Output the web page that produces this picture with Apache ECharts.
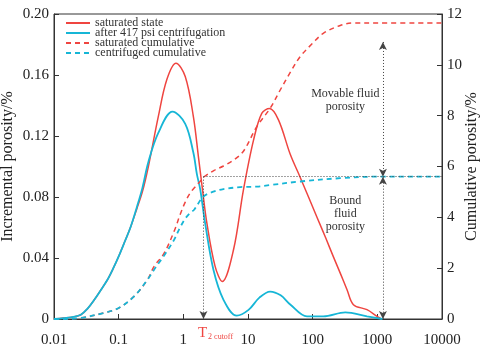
<!DOCTYPE html>
<html>
<head>
<meta charset="utf-8">
<script src="https://cdn.jsdelivr.net/npm/echarts@6/dist/echarts.min.js"></script>
<style>
  html, body { margin: 0; padding: 0; background: #fff; }
  #fig_t2 { width: 484px; height: 348px; }
</style>
</head>
<body>
<div id="fig_t2"></div>
<script>
// T2 relaxation time (ms) vs incremental porosity (%)
var satIncT = [0.01, 0.014, 0.02, 0.026, 0.033, 0.042, 0.053, 0.067, 0.082, 0.1, 0.125, 0.154, 0.19, 0.233, 0.288, 0.41, 0.556, 0.77, 1.07, 1.43, 1.71, 1.98, 2.31, 3.1, 4.0, 5.97, 8.5, 12.2, 16.4, 21.5, 29.6, 45, 64, 117, 160, 211, 270, 340, 427, 692, 990, 1150];
var satIncV = [0, 0.0006, 0.0014, 0.0028, 0.0068, 0.0126, 0.019, 0.0257, 0.033, 0.041, 0.051, 0.0607, 0.072, 0.0835, 0.1, 0.1327, 0.157, 0.1677, 0.159, 0.1327, 0.1065, 0.0847, 0.063, 0.0345, 0.0246, 0.0454, 0.0847, 0.1175, 0.135, 0.138, 0.1306, 0.108, 0.093, 0.0666, 0.0529, 0.0404, 0.0296, 0.0192, 0.0094, 0.0061, 0.0017, 0];

var cenIncT = [0.01, 0.014, 0.02, 0.026, 0.033, 0.042, 0.053, 0.067, 0.082, 0.1, 0.125, 0.154, 0.19, 0.233, 0.288, 0.41, 0.68, 1.07, 1.43, 1.62, 1.83, 2.17, 2.92, 4.18, 6.7, 10.2, 15, 22, 32, 45, 81.7, 146, 320, 692, 1200];
var cenIncV = [0, 0.0006, 0.0014, 0.0028, 0.0068, 0.0126, 0.019, 0.0257, 0.033, 0.041, 0.051, 0.0607, 0.073, 0.086, 0.103, 0.122, 0.136, 0.128, 0.109, 0.095, 0.0847, 0.063, 0.0323, 0.0126, 0.0022, 0.006, 0.014, 0.018, 0.0155, 0.0095, 0.0017, 0.0017, 0.0043, 0.0017, 0];

// cumulative porosity (%)
var satCumT = [0.01, 0.014, 0.026, 0.059, 0.1, 0.173, 0.278, 0.353, 0.505, 0.72, 0.89, 1.07, 1.27, 1.47, 1.87, 2.05, 3.0, 4.18, 5.97, 8.5, 13.7, 22, 31.5, 45, 64, 100, 146, 267, 427, 1000, 10000];
var satCumV = [0, 0, 0.04, 0.24, 0.43, 0.89, 1.54, 2.07, 2.59, 3.45, 4.1, 4.6, 4.95, 5.15, 5.45, 5.58, 5.85, 6.02, 6.25, 6.6, 7.57, 8.29, 9.01, 9.7, 10.32, 10.85, 11.24, 11.55, 11.65, 11.65, 11.65];

var cenCumT = [0.01, 0.014, 0.026, 0.059, 0.1, 0.173, 0.278, 0.353, 0.505, 0.72, 0.89, 1.07, 1.27, 1.47, 2.05, 3.0, 4.18, 7.6, 13.7, 22, 64, 267, 1000, 10000];
var cenCumV = [0, 0, 0.04, 0.24, 0.43, 0.89, 1.54, 1.94, 2.5, 3.12, 3.6, 3.95, 4.17, 4.3, 4.82, 5.02, 5.11, 5.19, 5.21, 5.27, 5.41, 5.54, 5.6, 5.6];

var seriesNames = ['saturated state', 'after 417 psi centrifugation', 'saturated cumulative', 'centrifuged cumulative'];

var t2Cutoff = 2.05;
var boundLevel = 5.6;
var totalLevel = 10.9;
var arrowT = 1220;

var RED = '#ef4540';
var BLUE = '#16b6d6';
var SERIF = '"Liberation Serif", "Times New Roman", serif';

function pairs(xs, ys) {
    return xs.map(function(x, i) { return [x, ys[i]]; });
}

var fig_t2 = {
    plot_chart: null,

    init: function() {
        var guide = { color: '#444', type: [1, 2], width: 1 };
        this.option = {
            animation: false,
            grid: {
                left: 54, right: 42, top: 14, bottom: 29,
                outerBoundsMode: 'none', containLabel: false,
                show: true, borderColor: '#333', borderWidth: 1
            },
            legend: {
                data: seriesNames,
                orient: 'vertical',
                left: 60, top: 12,
                itemWidth: 24, itemHeight: 8, itemGap: -2,
                itemStyle: { opacity: 0 },
                textStyle: { fontFamily: SERIF, fontSize: 12, color: '#333' }
            },
            xAxis: {
                type: 'log', logBase: 10, min: 0.01, max: 10000,
                axisLine: { lineStyle: { color: '#333' } },
                axisTick: { inside: true, length: 5, lineStyle: { color: '#333' } },
                minorTick: { show: false },
                splitLine: { show: false },
                axisLabel: {
                    fontFamily: SERIF, fontSize: 15, color: '#222', margin: 14,
                    formatter: function(v) { return String(+(+v).toPrecision(1)); }
                }
            },
            yAxis: [{
                type: 'value', min: 0, max: 0.2, interval: 0.04,
                name: 'Incremental porosity/%', nameLocation: 'middle', nameGap: 38,
                nameMoveOverlap: false,
                nameTextStyle: { fontFamily: SERIF, fontSize: 16, color: '#222' },
                axisLine: { show: true, lineStyle: { color: '#333' } },
                axisTick: { show: true, inside: true, length: 5, lineStyle: { color: '#333' } },
                splitLine: { show: false },
                axisLabel: {
                    fontFamily: SERIF, fontSize: 15, color: '#222', margin: 5,
                    formatter: function(v) { return v === 0 ? '0' : v.toFixed(2); }
                }
            }, {
                type: 'value', min: 0, max: 12, interval: 2,
                name: 'Cumulative porosity/%', nameLocation: 'middle', nameGap: 22,
                nameMoveOverlap: false,
                nameTextStyle: { fontFamily: SERIF, fontSize: 16, color: '#222' },
                axisLine: { show: true, lineStyle: { color: '#333' } },
                axisTick: { show: true, inside: true, length: 5, lineStyle: { color: '#333' } },
                splitLine: { show: false },
                axisLabel: { fontFamily: SERIF, fontSize: 15, color: '#222', margin: 5 }
            }],
            series: [{
                name: seriesNames[0], type: 'line', smooth: 0.35, symbol: 'none',
                data: pairs(satIncT, satIncV),
                lineStyle: { color: RED, width: 1.5 }, itemStyle: { color: RED }
            }, {
                name: seriesNames[1], type: 'line', smooth: 0.35, symbol: 'none',
                data: pairs(cenIncT, cenIncV),
                lineStyle: { color: BLUE, width: 1.8 }, itemStyle: { color: BLUE }
            }, {
                name: seriesNames[2], type: 'line', smooth: 0.35, symbol: 'none', yAxisIndex: 1,
                data: pairs(satCumT, satCumV),
                lineStyle: { color: RED, width: 1.5, type: [5, 4] }, itemStyle: { color: RED },
                markLine: {
                    silent: true, symbol: ['arrow', 'arrow'], symbolSize: [6, 8],
                    lineStyle: guide, label: { show: false },
                    data: [
                        [{ coord: [t2Cutoff, boundLevel], symbol: 'none' }, { coord: [10000, boundLevel], symbol: 'none' }],
                        [{ coord: [t2Cutoff, boundLevel], symbol: 'none' }, { coord: [t2Cutoff, 0], symbol: 'arrow' }],
                        [{ coord: [arrowT, totalLevel] }, { coord: [arrowT, boundLevel] }],
                        [{ coord: [arrowT, boundLevel] }, { coord: [arrowT, 0] }]
                    ]
                },
                markPoint: {
                    silent: true, symbol: 'circle', symbolSize: 1,
                    itemStyle: { color: 'rgba(0,0,0,0)' },
                    label: { show: true, position: 'inside', fontFamily: SERIF, fontSize: 12, lineHeight: 13, color: '#333', align: 'center' },
                    data: [
                        { coord: [320, 8.6], value: 1, label: { formatter: 'Movable fluid\nporosity' } },
                        { coord: [320, 4.15], value: 1, label: { formatter: 'Bound\nfluid\nporosity' } },
                        {
                            coord: [t2Cutoff, 0], value: 1,
                            label: {
                                offset: [12, 14],
                                formatter: '{t|T}{s|2 cutoff}',
                                rich: {
                                    t: { fontFamily: SERIF, fontSize: 15, color: RED },
                                    s: { fontFamily: SERIF, fontSize: 8, color: RED, padding: [8, 0, 0, 1] }
                                }
                            }
                        }
                    ]
                }
            }, {
                name: seriesNames[3], type: 'line', smooth: 0.35, symbol: 'none', yAxisIndex: 1,
                data: pairs(cenCumT, cenCumV),
                lineStyle: { color: BLUE, width: 1.8, type: [5, 4] }, itemStyle: { color: BLUE }
            }]
        };

        this.plot_chart = echarts.init(document.getElementById('fig_t2'));
        this.plot_chart.setOption(this.option);
    }
};

fig_t2.init();
</script>
</body>
</html>
